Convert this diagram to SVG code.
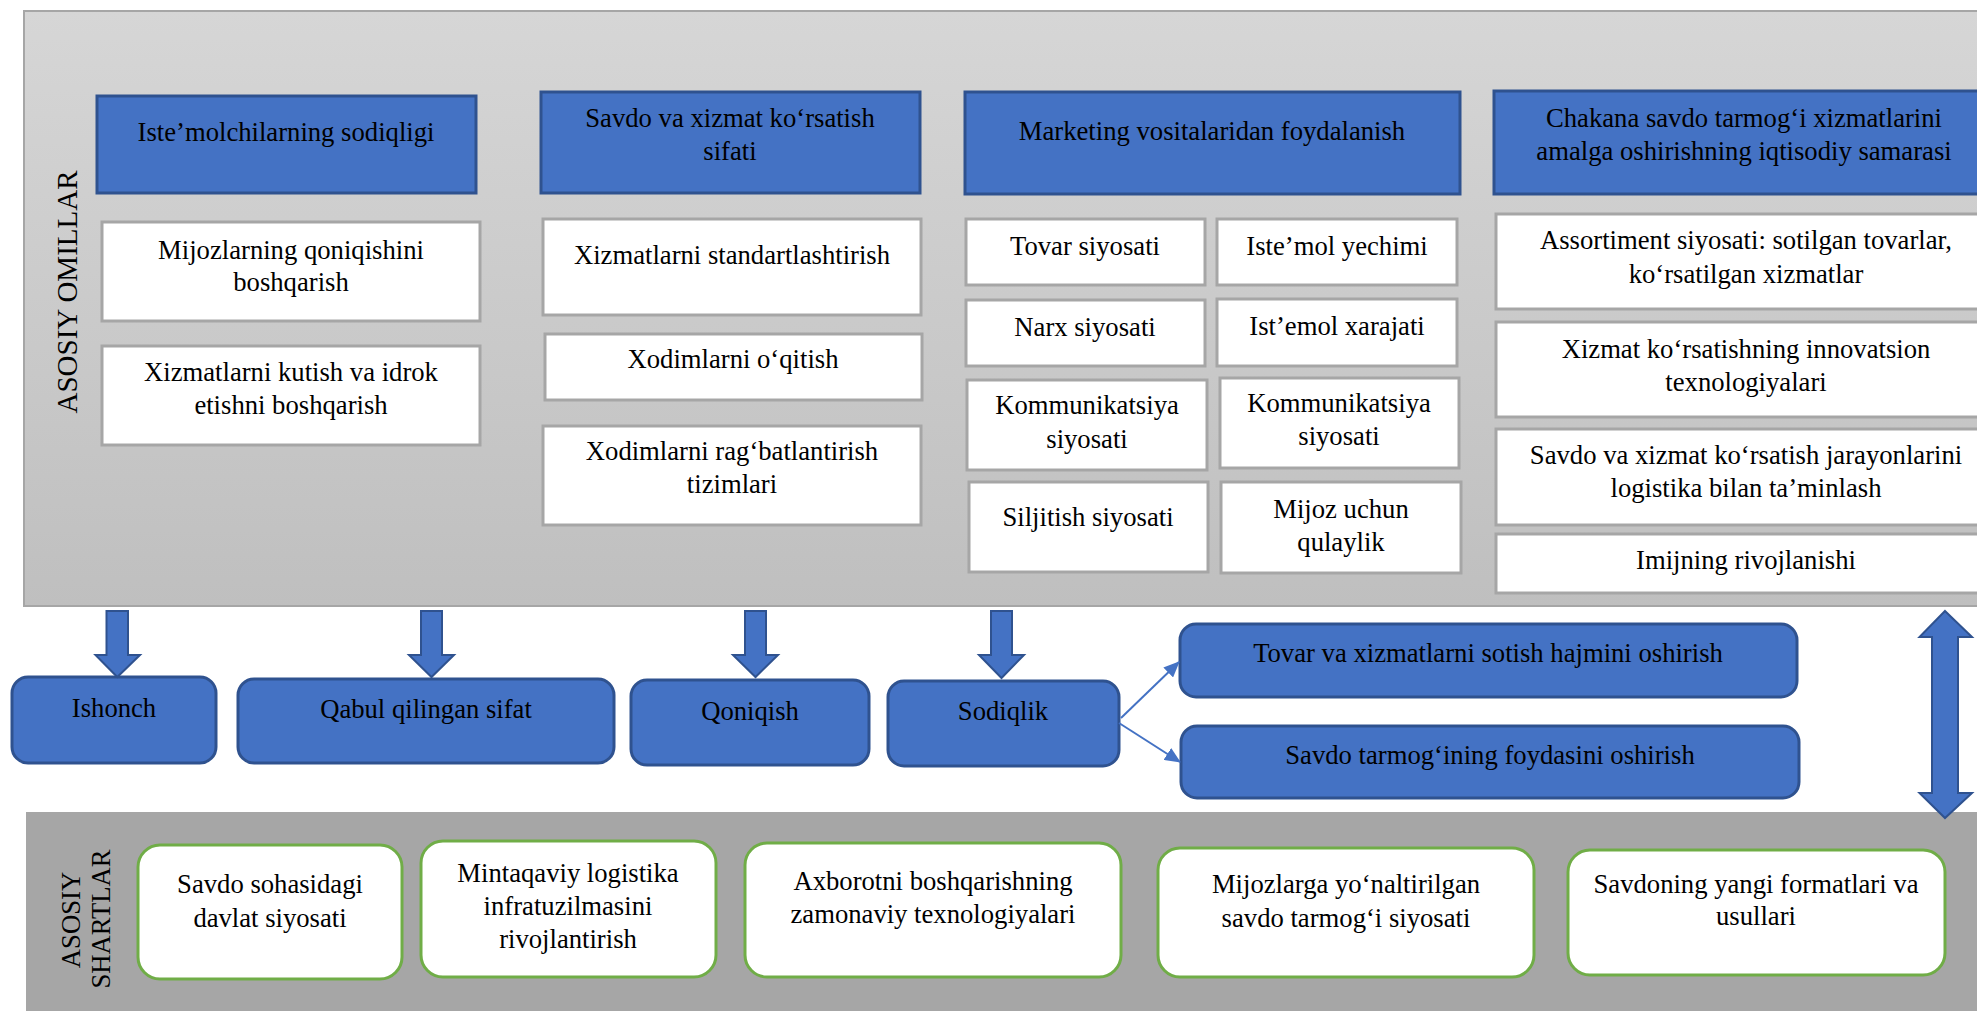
<svg xmlns="http://www.w3.org/2000/svg" width="1977" height="1011" viewBox="0 0 1977 1011">
<defs>
<linearGradient id="gtop" x1="0" y1="0" x2="0" y2="1">
<stop offset="0" stop-color="#d6d6d6"/>
<stop offset="1" stop-color="#bfbfbf"/>
</linearGradient>
<marker id="ah2" markerWidth="16" markerHeight="14" refX="15" refY="7" orient="auto" markerUnits="userSpaceOnUse" viewBox="0 0 16 14">
<path d="M0,0 L16,7 L0,14 z" fill="#4472c4"/>
</marker>
</defs>
<style>
text{font-family:'Liberation Serif','Times New Roman',serif;font-size:26.67px;fill:#000;text-anchor:middle}
.hdr{fill:#4472c4;stroke:#2f528f;stroke-width:3}
.wb{fill:#fff;stroke:#a6a6a6;stroke-width:3}
.rb{fill:#4472c4;stroke:#2f528f;stroke-width:3}
.gb{fill:#fff;stroke:#70ad47;stroke-width:3}
.ar{fill:#4472c4;stroke:#2f528f;stroke-width:2}
.side{font-size:29px}
</style>
<rect x="24" y="11" width="1970" height="595" fill="url(#gtop)" stroke="#a6a6a6" stroke-width="2"/>
<rect x="26" y="812" width="1970" height="210" fill="#a6a6a6"/>
<text class="side" transform="translate(77,292) rotate(-90)">ASOSIY OMILLAR</text>
<text transform="translate(80,920) rotate(-90)">ASOSIY</text>
<text transform="translate(110,919) rotate(-90)">SHARTLAR</text>

<g id="h1"><rect class="hdr" x="97" y="96" width="379" height="97"/><text x="286" y="141">Iste’molchilarning sodiqligi</text></g>
<g id="h2"><rect class="hdr" x="541" y="92" width="379" height="101"/><text x="730" y="127">Savdo va xizmat ko‘rsatish</text><text x="730" y="160">sifati</text></g>
<g id="h3"><rect class="hdr" x="965" y="92" width="495" height="102"/><text x="1212" y="140">Marketing vositalaridan foydalanish</text></g>
<g id="h4"><rect class="hdr" x="1494" y="91" width="500" height="103"/><text x="1744" y="127">Chakana savdo tarmog‘i xizmatlarini</text><text x="1744" y="160">amalga oshirishning iqtisodiy samarasi</text></g>

<g id="c1a"><rect class="wb" x="102" y="222" width="378" height="99"/><text x="291" y="259">Mijozlarning qoniqishini</text><text x="291" y="291">boshqarish</text></g>
<g id="c1b"><rect class="wb" x="102" y="346" width="378" height="99"/><text x="291" y="381">Xizmatlarni kutish va idrok</text><text x="291" y="414">etishni boshqarish</text></g>

<g id="c2a"><rect class="wb" x="543" y="219" width="378" height="96"/><text x="732" y="264">Xizmatlarni standartlashtirish</text></g>
<g id="c2b"><rect class="wb" x="545" y="334" width="377" height="66"/><text x="733" y="368">Xodimlarni o‘qitish</text></g>
<g id="c2c"><rect class="wb" x="543" y="426" width="378" height="99"/><text x="732" y="460">Xodimlarni rag‘batlantirish</text><text x="732" y="493">tizimlari</text></g>

<g id="m1"><rect class="wb" x="966" y="219" width="239" height="66"/><text x="1085" y="255">Tovar siyosati</text></g>
<g id="m2"><rect class="wb" x="1217" y="219" width="240" height="66"/><text x="1337" y="255">Iste’mol yechimi</text></g>
<g id="m3"><rect class="wb" x="966" y="300" width="239" height="66"/><text x="1085" y="336">Narx siyosati</text></g>
<g id="m4"><rect class="wb" x="1217" y="299" width="240" height="67"/><text x="1337" y="335">Ist’emol xarajati</text></g>
<g id="m5"><rect class="wb" x="967" y="380" width="240" height="90"/><text x="1087" y="414">Kommunikatsiya</text><text x="1087" y="448">siyosati</text></g>
<g id="m6"><rect class="wb" x="1220" y="378" width="239" height="90"/><text x="1339" y="412">Kommunikatsiya</text><text x="1339" y="445">siyosati</text></g>
<g id="m7"><rect class="wb" x="969" y="482" width="239" height="90"/><text x="1088" y="526">Siljitish siyosati</text></g>
<g id="m8"><rect class="wb" x="1221" y="482" width="240" height="91"/><text x="1341" y="518">Mijoz uchun</text><text x="1341" y="551">qulaylik</text></g>

<g id="e1"><rect class="wb" x="1496" y="214" width="500" height="95"/><text x="1746" y="249">Assortiment siyosati: sotilgan tovarlar,</text><text x="1746" y="283">ko‘rsatilgan xizmatlar</text></g>
<g id="e2"><rect class="wb" x="1496" y="322" width="500" height="95"/><text x="1746" y="358">Xizmat ko‘rsatishning innovatsion</text><text x="1746" y="391">texnologiyalari</text></g>
<g id="e3"><rect class="wb" x="1496" y="429" width="500" height="96"/><text x="1746" y="464">Savdo va xizmat ko‘rsatish jarayonlarini</text><text x="1746" y="497">logistika bilan ta’minlash</text></g>
<g id="e4"><rect class="wb" x="1496" y="534" width="500" height="59"/><text x="1746" y="569">Imijning rivojlanishi</text></g>

<g id="r1"><rect class="rb" x="12" y="677" width="204" height="86" rx="16"/><text x="114" y="717">Ishonch</text></g>
<g id="r2"><rect class="rb" x="238" y="679" width="376" height="84" rx="16"/><text x="426" y="718">Qabul qilingan sifat</text></g>
<g id="r3"><rect class="rb" x="631" y="680" width="238" height="85" rx="16"/><text x="750" y="720">Qoniqish</text></g>
<g id="r4"><rect class="rb" x="888" y="681" width="231" height="85" rx="16"/><text x="1003" y="720">Sodiqlik</text></g>
<g id="r5"><rect class="rb" x="1180" y="624" width="617" height="73" rx="16"/><text x="1488" y="662">Tovar va xizmatlarni sotish hajmini oshirish</text></g>
<g id="r6"><rect class="rb" x="1181" y="726" width="618" height="72" rx="16"/><text x="1490" y="764">Savdo tarmog‘ining foydasini oshirish</text></g>

<g id="s1"><rect class="gb" x="138" y="845" width="264" height="134" rx="22"/><text x="270" y="893">Savdo sohasidagi</text><text x="270" y="927">davlat siyosati</text></g>
<g id="s2"><rect class="gb" x="421" y="841" width="295" height="136" rx="22"/><text x="568" y="882">Mintaqaviy logistika</text><text x="568" y="915">infratuzilmasini</text><text x="568" y="948">rivojlantirish</text></g>
<g id="s3"><rect class="gb" x="745" y="843" width="376" height="134" rx="22"/><text x="933" y="890">Axborotni boshqarishning</text><text x="933" y="923">zamonaviy texnologiyalari</text></g>
<g id="s4"><rect class="gb" x="1158" y="848" width="376" height="129" rx="22"/><text x="1346" y="893">Mijozlarga yo‘naltirilgan</text><text x="1346" y="927">savdo tarmog‘i siyosati</text></g>
<g id="s5"><rect class="gb" x="1568" y="850" width="377" height="125" rx="22"/><text x="1756" y="893">Savdoning yangi formatlari va</text><text x="1756" y="925">usullari</text></g>

<g id="connectors">
<polygon class="ar" points="106.5,611 128,611 128,655 140,655 117.3,677 95.5,655 106.5,655"/>
<polygon class="ar" points="421,611 442,611 442,655 454,655 431.5,677 409,655 421,655"/>
<polygon class="ar" points="745,611 766,611 766,655 778,655 755.5,677 733,655 745,655"/>
<polygon class="ar" points="991,611 1012,611 1012,655 1024,655 1001.5,678 979,655 991,655"/>
<polygon class="ar" points="1945,611 1972,637 1958,637 1958,793 1972,793 1945,818 1919.5,793 1932,793 1932,637 1919.5,637"/>
<line x1="1121" y1="718" x2="1179" y2="662" stroke="#4472c4" stroke-width="2" marker-end="url(#ah2)"/>
<line x1="1119" y1="723" x2="1180" y2="762" stroke="#4472c4" stroke-width="2" marker-end="url(#ah2)"/>
</g>
</svg>
